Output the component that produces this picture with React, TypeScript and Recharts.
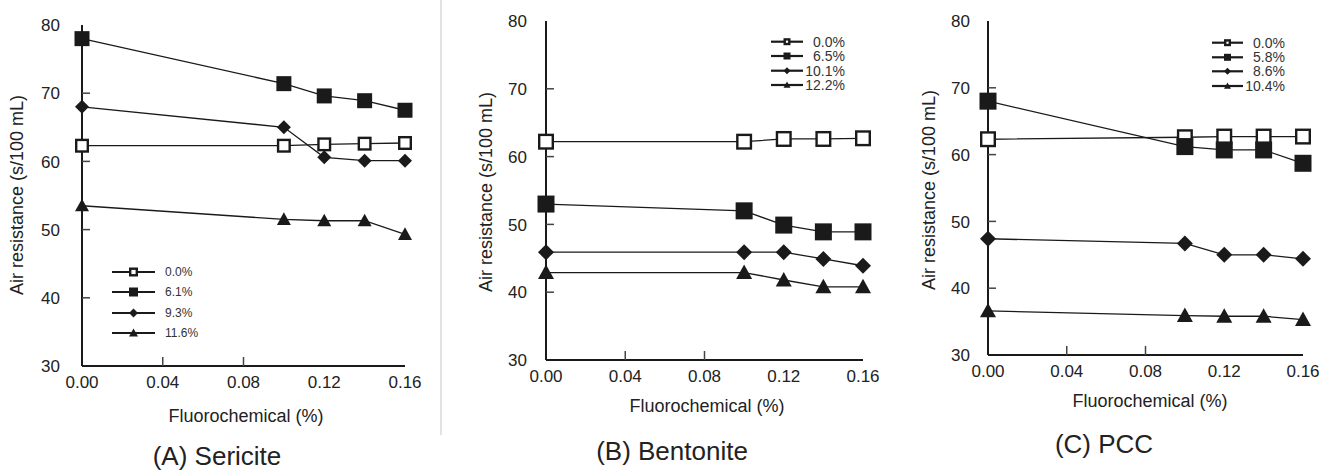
import React from 'react';
import { Legend, Line, LineChart, XAxis, YAxis } from 'recharts';

// fluorochemical addition levels (x) shared by all three panels
const fluoro = [0, 0.1, 0.12, 0.14, 0.16];
const xTicks = [0, 0.04, 0.08, 0.12, 0.16];
const yTicks = [30, 40, 50, 60, 70, 80];

// (A) Sericite, filler content
const sericiteLabels = ['0.0%', '6.1%', '9.3%', '11.6%'];
const sericite00 = [62.3, 62.3, 62.5, 62.6, 62.7];
const sericite61 = [78.0, 71.4, 69.6, 68.9, 67.5];
const sericite93 = [68.0, 65.0, 60.6, 60.1, 60.1];
const sericite116 = [53.5, 51.5, 51.3, 51.3, 49.3];

// (B) Bentonite
const bentoniteLabels = ['0.0%', '6.5%', '10.1%', '12.2%'];
const bentonite00 = [62.2, 62.2, 62.6, 62.6, 62.7];
const bentonite65 = [53.0, 52.0, 49.9, 48.9, 48.9];
const bentonite101 = [45.9, 45.9, 45.9, 44.9, 43.9];
const bentonite122 = [42.9, 42.9, 41.8, 40.8, 40.8];

// (C) PCC
const pccLabels = ['0.0%', '5.8%', '8.6%', '10.4%'];
const pcc00 = [62.3, 62.6, 62.7, 62.7, 62.7];
const pcc58 = [68.0, 61.2, 60.7, 60.7, 58.7];
const pcc86 = [47.4, 46.7, 45.0, 45.0, 44.4];
const pcc104 = [36.6, 35.9, 35.8, 35.8, 35.3];

const kinds = ['open', 'square', 'diamond', 'triangle'];
const INK = '#1a1a1a';
const TICK = '#444';
const FONT = '"Liberation Sans", Arial, sans-serif';
const CH = 400; // chart height
const XH = 30; // x axis band
const YW = 60; // y axis band

const buildRows = (series: number[][]) =>
  fluoro.map((x, i) => {
    const row: any = { x };
    series.forEach((s, k) => (row['s' + k] = s[i]));
    return row;
  });

const Marker = ({ cx, cy, kind, size }: any) => {
  const h = size / 2;
  if (cx == null || cy == null) return null;
  if (kind === 'open')
    return <rect x={cx - h + 1.2} y={cy - h + 1.2} width={size - 2.4} height={size - 2.4} fill="#fff" stroke={INK} strokeWidth={2.4} />;
  if (kind === 'square') return <rect x={cx - h} y={cy - h} width={size} height={size} fill={INK} />;
  if (kind === 'diamond')
    return <polygon points={`${cx},${cy - h} ${cx + h},${cy} ${cx},${cy + h} ${cx - h},${cy}`} fill={INK} />;
  return <polygon points={`${cx},${cy - h} ${cx + h},${cy + h * 0.8} ${cx - h},${cy + h * 0.8}`} fill={INK} />;
};

interface LegendCfg {
  left: number;
  top: number;
  rows: number[];
  x1: number;
  x2: number;
  textX: number;
  anchor: 'start' | 'end';
  fontSize: number;
  size: number;
}

const LegendBox = ({ labels, cfg }: { labels: string[]; cfg: LegendCfg }) => (
  <svg width={100} height={90} style={{ overflow: 'visible' }}>
    {labels.map((lab, i) => {
      const y = cfg.rows[i];
      const mx = (cfg.x1 + cfg.x2) / 2;
      return (
        <g key={lab}>
          <line x1={cfg.x1} x2={cfg.x2} y1={y} y2={y} stroke={INK} strokeWidth={2.2} />
          <Marker cx={mx} cy={y} kind={kinds[i]} size={cfg.size} />
          <text x={cfg.textX} y={y} dy="0.36em" textAnchor={cfg.anchor} fontSize={cfg.fontSize} fill="#333" fontFamily={FONT}>
            {lab}
          </text>
        </g>
      );
    })}
  </svg>
);

interface PanelProps {
  left: number;
  width: number;
  margin: { top: number; right: number; bottom: number; left: number };
  labels: string[];
  series: number[][];
  size: number;
  yGap: number;
  legend: LegendCfg;
}

const Panel = ({ left, width, margin, labels, series, size, yGap, legend }: PanelProps) => {
  const data = buildRows(series);
  const axisX = margin.left + YW;
  const axisY = CH - margin.bottom - XH;

  // ticks point into the plot, like the original figure
  const YTick = ({ y, payload }: any) => (
    <g>
      {payload.value !== 30 && payload.value !== 80 && (
        <line x1={axisX} x2={axisX + 8} y1={y} y2={y} stroke={TICK} strokeWidth={1.5} />
      )}
      <text x={axisX - yGap} y={y} dy="0.36em" textAnchor="end" fontSize={17} fill="#222" fontFamily={FONT}>
        {payload.value}
      </text>
    </g>
  );
  const XTick = ({ x, payload }: any) => (
    <g>
      {payload.value > 0 && payload.value < 0.1 && (
        <line x1={x} x2={x} y1={axisY} y2={axisY - 9} stroke={TICK} strokeWidth={1.5} />
      )}
      <text x={x} y={axisY + 22} textAnchor="middle" fontSize={17} fill="#222" fontFamily={FONT}>
        {payload.value.toFixed(2)}
      </text>
    </g>
  );

  return (
    <div style={{ position: 'absolute', left, top: 0 }}>
      <LineChart width={width} height={CH} data={data} margin={margin}>
        <XAxis
          dataKey="x"
          type="number"
          domain={[0, 0.16]}
          ticks={xTicks}
          height={XH}
          tick={<XTick />}
          tickLine={false}
          axisLine={{ stroke: INK, strokeWidth: 2 }}
          interval={0}
        />
        <XAxis xAxisId="top" orientation="top" type="number" domain={[0, 0.16]} height={0} tick={false} tickLine={false} axisLine={{ stroke: INK, strokeWidth: 2 }} />
        <YAxis
          type="number"
          domain={[30, 80]}
          ticks={yTicks}
          width={YW}
          tick={<YTick />}
          tickLine={false}
          axisLine={{ stroke: INK, strokeWidth: 2 }}
          interval={0}
        />
        <YAxis yAxisId="right" orientation="right" type="number" domain={[30, 80]} width={0} tick={false} tickLine={false} axisLine={{ stroke: INK, strokeWidth: 2 }} />
        {series.map((_, k) => (
          <Line
            key={k}
            dataKey={'s' + k}
            name={labels[k]}
            type="linear"
            stroke={INK}
            strokeWidth={1.3}
            isAnimationActive={false}
            dot={(p: any) => <Marker key={p.index} cx={p.cx} cy={p.cy} kind={kinds[k]} size={kinds[k] === 'square' ? size : size - 1} />}
            activeDot={false}
          />
        ))}
        <Legend
          layout="vertical"
          align="center"
          verticalAlign="middle"
          wrapperStyle={{ position: 'absolute', left: legend.left, top: legend.top, width: 100, height: 90 }}
          content={() => <LegendBox labels={labels} cfg={legend} />}
        />
      </LineChart>
    </div>
  );
};

const Text = ({ x, y, children, size, rotate }: any) => (
  <div
    style={{
      position: 'absolute',
      left: x,
      top: y,
      transform: `translate(-50%, -50%)${rotate ? ' rotate(-90deg)' : ''}`,
      whiteSpace: 'nowrap',
      fontFamily: FONT,
      fontSize: size,
      lineHeight: 1.1,
      color: '#222',
    }}
  >
    {children}
  </div>
);

const App = () => {
  return (
    <div style={{ position: 'absolute', left: 0, top: 0, width: 1325, height: 472, background: '#fff', overflow: 'hidden' }}>
      <div style={{ position: 'absolute', left: 440, top: 0, width: 2, height: 435, background: '#e2e2e2' }} />
      <Panel
        left={0}
        width={440}
        margin={{ top: 25, right: 35, bottom: 4, left: 22 }}
        labels={sericiteLabels}
        series={[sericite00, sericite61, sericite93, sericite116]}
        size={15}
        yGap={22}
        legend={{ left: 108, top: 262, rows: [10, 30, 51, 71], x1: 4, x2: 47, textX: 57, anchor: 'start', fontSize: 12, size: 9 }}
      />
      <Panel
        left={480}
        width={400}
        margin={{ top: 21, right: 17, bottom: 10, left: 6 }}
        labels={bentoniteLabels}
        series={[bentonite00, bentonite65, bentonite101, bentonite122]}
        size={17}
        yGap={19}
        legend={{ left: 287, top: 32, rows: [9.7, 24, 38.7, 53], x1: 4, x2: 36, textX: 78, anchor: 'end', fontSize: 14, size: 7 }}
      />
      <Panel
        left={900}
        width={425}
        margin={{ top: 21, right: 22, bottom: 15, left: 28 }}
        labels={pccLabels}
        series={[pcc00, pcc58, pcc86, pcc104]}
        size={17}
        yGap={18}
        legend={{ left: 308, top: 33, rows: [9.7, 24.3, 38.3, 53], x1: 4, x2: 35, textX: 77, anchor: 'end', fontSize: 14, size: 7 }}
      />
      <Text x={18} y={195} size={18} rotate>Air resistance (s/100 mL)</Text>
      <Text x={246} y={417} size={18}>Fluorochemical (%)</Text>
      <Text x={217} y={456} size={26}>(A) Sericite</Text>
      <Text x={487} y={192} size={18} rotate>Air resistance (s/100 mL)</Text>
      <Text x={707} y={407} size={18}>Fluorochemical (%)</Text>
      <Text x={672} y={451} size={26}>(B) Bentonite</Text>
      <Text x={930} y={190} size={18} rotate>Air resistance (s/100 mL)</Text>
      <Text x={1150} y={402} size={18}>Fluorochemical (%)</Text>
      <Text x={1104} y={444} size={26}>(C) PCC</Text>
    </div>
  );
};

export default App;
